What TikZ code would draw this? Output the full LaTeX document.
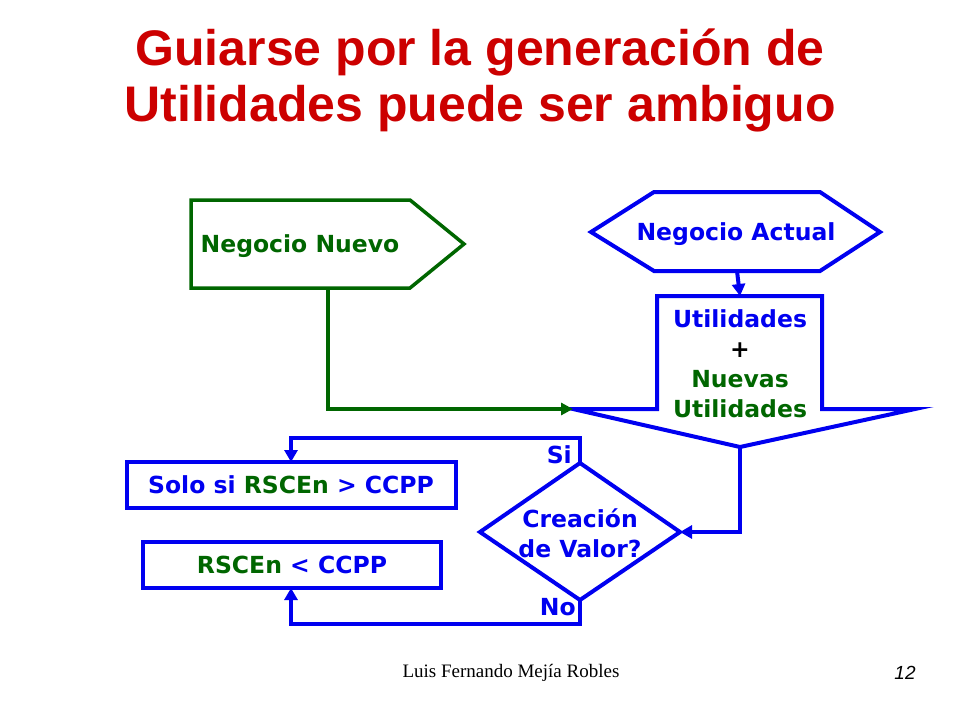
\documentclass[tikz,border=0pt]{standalone}
\usepackage{fontspec}
\setmainfont{Liberation Serif}
\newfontfamily\titlefont{Liberation Sans}
\newfontfamily\boxfont{DejaVu Sans}
\usetikzlibrary{arrows.meta}
\definecolor{tred}{RGB}{204,0,0}
\definecolor{bblue}{RGB}{0,0,240}
\definecolor{dgreen}{RGB}{0,102,0}
\tikzset{
  x=1pt,y=-1pt,
  bshape/.style={draw=bblue,line width=4pt,line join=miter},
  gshape/.style={draw=dgreen,line width=3.5pt},
  bline/.style={draw=bblue,line width=4pt,-{Triangle[length=12pt,width=13pt]}},
  gline/.style={draw=dgreen,line width=3.5pt,-{Triangle[length=12pt,width=12pt]}},
  btxt/.style={font=\boxfont\bfseries\fontsize{23.5}{30}\selectfont,text=bblue,align=center,inner sep=0pt},
}
\begin{document}
\begin{tikzpicture}
\useasboundingbox (0,0) rectangle (960,720);
\node[font=\titlefont\bfseries\fontsize{50}{56}\selectfont,text=tred,align=center] (title) at (480,80) {Guiarse por la generación de\\Utilidades puede ser ambiguo};
% shapes
\draw[gshape] (191,200) -- (410,200) -- (464,244) -- (410,288) -- (191,288) -- cycle;
\node[btxt,text=dgreen] (nn) at (300,246) {Negocio Nuevo};
\draw[bshape] (591,232) -- (654,192) -- (820,192) -- (880,232) -- (820,271) -- (654,271) -- cycle;
\node[btxt] (na) at (736,234) {Negocio Actual};
\draw[bshape] (657,296) -- (822,296) -- (822,409) -- (915,409) -- (740,447) -- (573,409) -- (657,409) -- cycle;
\node[btxt,align=center] (ut) at (740,364) {Utilidades\\{\color{black}+}\\{\color{dgreen}Nuevas}\\{\color{dgreen}Utilidades}};
\draw[bshape] (580,463) -- (680,532) -- (580,600) -- (480,532) -- cycle;
\node[btxt] (cv) at (580,533) {Creación\\de Valor?};
\draw[bshape] (127,462) rectangle (456,508);
\node[btxt] (b1) at (291,485) {Solo si {\color{dgreen}RSCEn} > CCPP};
\draw[bshape] (143,542) rectangle (441,588);
\node[btxt] (b2) at (292,565) {{\color{dgreen}RSCEn} < CCPP};
% named points
\coordinate (hexb) at (737,271);
\coordinate (funt) at (740,296);
\coordinate (nnb) at (328,288);
\coordinate (funl) at (573,409);
\coordinate (funb) at (740,447);
\coordinate (dr) at (680,532);
\coordinate (dt) at (580,463);
\coordinate (db) at (580,600);
\coordinate (b1t) at (291,462);
\coordinate (b2b) at (291,588);
% connectors
\draw[bline] (hexb) -- (funt);
\draw[gline] (nnb) |- (funl);
\draw[bline] (funb) |- (dr);
\draw[bline] (dt) -- (580,438) -| (b1t);
\draw[bline] (db) -- (580,624) -| (b2b);
\node[btxt,anchor=east] (si) at (572,455) {Si};
\node[btxt,anchor=east] (no) at (576,607) {No};
\node[font=\fontsize{19}{22}\selectfont] (auth) at (511,673) {Luis Fernando Mejía Robles};
\node[font=\titlefont\itshape\fontsize{19}{22}\selectfont] (pg) at (905,673) {12};
\end{tikzpicture}
\end{document}
